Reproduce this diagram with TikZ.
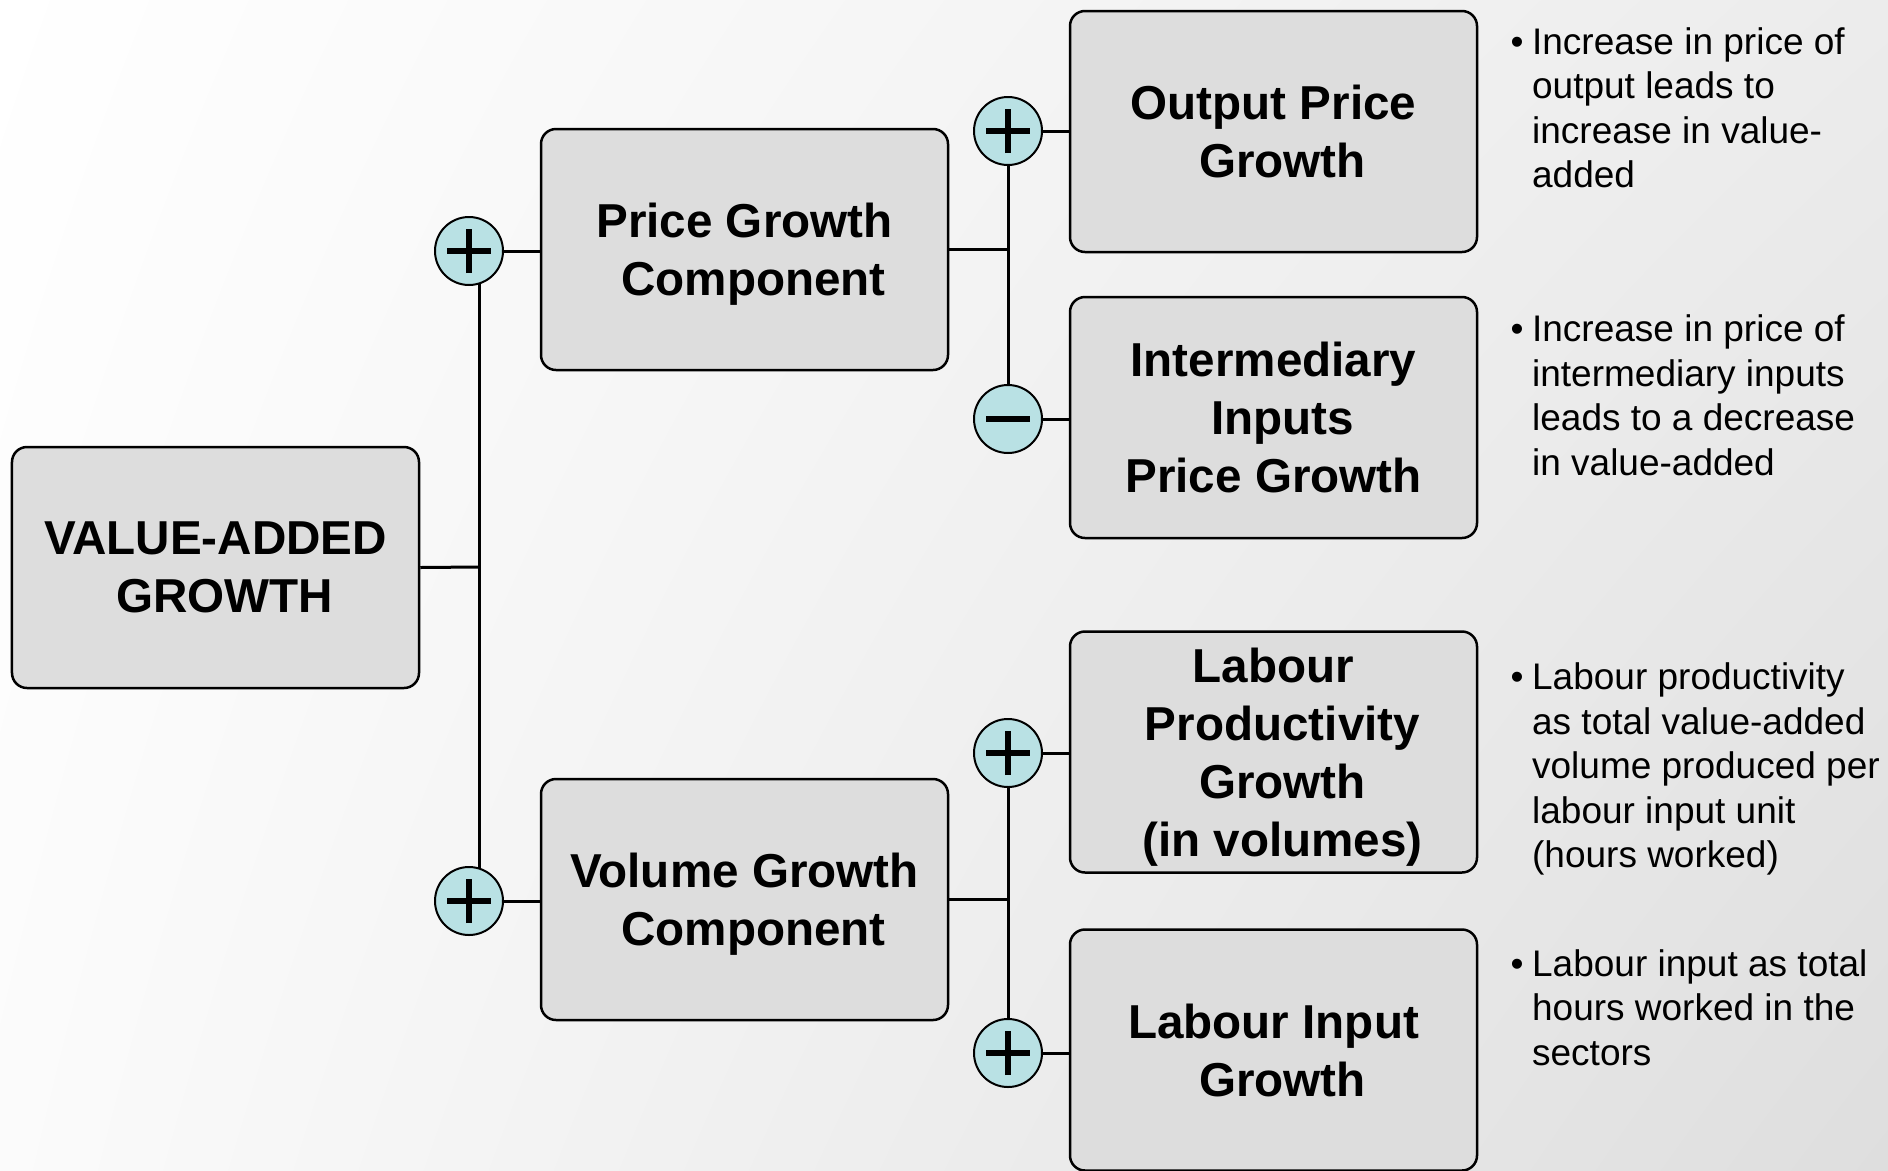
\documentclass[tikz,border=0pt]{standalone}
\usepackage{fontspec}
\setmainfont{Liberation Sans}
\usetikzlibrary{backgrounds,shadings}

\definecolor{boxfill}{RGB}{221,221,221}
\definecolor{signfill}{RGB}{185,225,228}
\definecolor{bgul}{RGB}{255,255,255}
\definecolor{bgll}{RGB}{251,251,251}
\definecolor{bgur}{RGB}{236,236,236}
\definecolor{bglr}{RGB}{222,222,222}

% next line of a box label, pushed a little to the right
\newcommand\brk{\\\hspace*{18bp}}

\tikzset{
  factor/.style={draw, line width=2.5bp, rounded corners=15bp, fill=boxfill,
    minimum width=407bp, minimum height=241bp, align=center, inner sep=0pt,
    text depth=0pt, font=\fontsize{47.6bp}{58bp}\selectfont\bfseries},
  opcircle/.style={circle, draw, line width=2bp, fill=signfill,
    minimum size=68bp, inner sep=0pt},
  addsign/.style={opcircle, path picture={
    \draw[line width=6bp] (path picture bounding box.center) +(-22bp,0) -- +(22bp,0)
      (path picture bounding box.center) +(0,-22bp) -- +(0,22bp);}},
  subsign/.style={opcircle, path picture={
    \draw[line width=6bp] (path picture bounding box.center) +(-22bp,0) -- +(22bp,0);}},
  link/.style={line width=3bp},
  note/.style={anchor=base west, inner sep=0pt,
    font=\fontsize{37bp}{44.5bp}\selectfont}
}

\begin{document}
\begin{tikzpicture}[x=1bp,y=-1bp]
  \useasboundingbox (0,0) rectangle (1888,1170);
  %% boxes
  \node[factor] (va) at (215.5,567.5) {VALUE-ADDED\brk GROWTH};
  \node[factor] (price) at (744.5,249.5) {Price Growth\brk Component};
  \node[factor] (volume) at (744.5,899.5) {Volume Growth\brk Component};
  \node[factor] (outp) at (1273.5,131.5) {Output Price\brk Growth};
  \node[factor] (interm) at (1273.5,417.5) {Intermediary\brk Inputs\\ Price Growth};
  \node[factor] (labprod) at (1273.5,752) {Labour\brk Productivity\brk Growth\brk (in volumes)};
  \node[factor] (labin) at (1273.5,1050) {Labour Input\brk Growth};
  %% signs
  \node[addsign] (pplus) at (469,251) {};
  \node[addsign] (vplus) at (469,901) {};
  \node[addsign] (oplus) at (1008,131) {};
  \node[subsign] (iminus) at (1008,419) {};
  \node[addsign] (lplus) at (1008,753) {};
  \node[addsign] (liplus) at (1008,1053) {};
  \coordinate (trunk) at (479,567);
  %% notes
  \node[note] (noteout) at (1510.5,54) {\begin{tabular}[t]{@{}l@{\hspace{8.5bp}}l@{}}
    \textbullet & Increase in price of\\ & output leads to\\ & increase in value-\\ & added\end{tabular}};
  \node[note] (noteint) at (1510.5,341.5) {\begin{tabular}[t]{@{}l@{\hspace{8.5bp}}l@{}}
    \textbullet & Increase in price of\\ & intermediary inputs\\ & leads to a decrease\\ & in value-added\end{tabular}};
  \node[note] (noteprod) at (1510.5,689.5) {\begin{tabular}[t]{@{}l@{\hspace{8.5bp}}l@{}}
    \textbullet & Labour productivity\\ & as total value-added\\ & volume produced per\\ & labour input unit\\ & (hours worked)\end{tabular}};
  \node[note] (notein) at (1510.5,976) {\begin{tabular}[t]{@{}l@{\hspace{8.5bp}}l@{}}
    \textbullet & Labour input as total\\ & hours worked in the\\ & sectors\end{tabular}};
  %%
  \begin{scope}[on background layer]
    \shade[upper left=bgul, lower left=bgll, upper right=bgur, lower right=bglr]
      (0,0) rectangle (1888,1170);
    \draw[link] (va.east) -- (trunk);
    \draw[link] (trunk |- pplus) -- (trunk |- vplus);
    \draw[link] (pplus.east) -- (pplus -| price.west);
    \draw[link] (vplus.east) -- (vplus -| volume.west);
    \draw[link] (price.east) -- (price.east -| oplus);
    \draw[link] (volume.east) -- (volume.east -| lplus);
    \draw[link] (oplus) -- (iminus);
    \draw[link] (lplus) -- (liplus);
    \draw[link] (oplus.east) -- (oplus -| outp.west);
    \draw[link] (iminus.east) -- (iminus -| interm.west);
    \draw[link] (lplus.east) -- (lplus -| labprod.west);
    \draw[link] (liplus.east) -- (liplus -| labin.west);
  \end{scope}
\end{tikzpicture}
\end{document}
